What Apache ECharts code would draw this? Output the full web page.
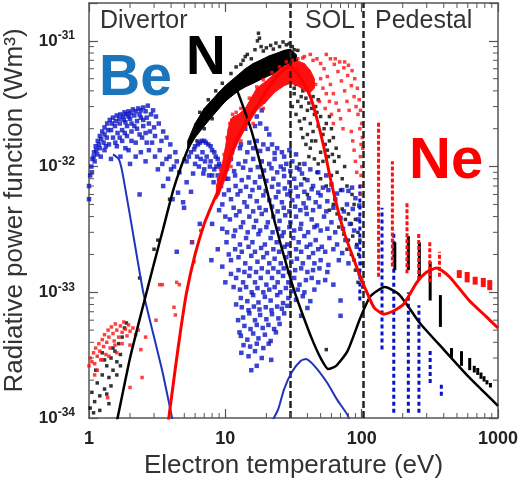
<!DOCTYPE html>
<html>
<head>
<meta charset="utf-8">
<script src="https://cdn.jsdelivr.net/npm/echarts@6/dist/echarts.min.js"></script>
<style>
html, body { margin: 0; padding: 0; background: #fff; }
#main { width: 529px; height: 484px; }
</style>
</head>
<body>
<div id="main"></div>
<script>
var FONT = '"Liberation Sans", Arial, sans-serif';

// axis ticks / regions
var tempTicks = [1, 10, 100, 1000];
var powerTicks = [1e-34, 1e-33, 1e-32, 1e-31];
var powerMax = 2e-31;
var regionBounds = [30, 103];
var regionNames = ['Divertor', 'SOL', 'Pedestal'];

// radiative power function curves [Te (eV), P (W m^3)]
var beCurve1 = [[1.5,1.25e-32],[1.65,1.15e-32],[1.75,9.2e-33],[2.02,3.8e-33],[2.5,1e-33],[3.0,4.4e-34],[3.5,2.2e-34],[4.15,9e-35]];
var beCurve2 = [[21.5,9e-35],[24.4,1.17e-34],[27,1.7e-34],[31,2.35e-34],[35.8,2.85e-34],[39,2.95e-34],[45,2.6e-34],[56,1.9e-34],[66,1.4e-34],[79,1.05e-34],[82,9e-35]];
var nCurve = [[1.58,9e-35],[1.62,1e-34],[2.0,3.0e-34],[2.47,7.5e-34],[3.0,1.7e-33],[3.5,3.2e-33],[4.2,6.8e-33],[5.2,1.3e-32],[6.8,2.5e-32],[9,3.8e-32],[11,4.5e-32],[12.1,4.1e-32],[13.5,3e-32],[15.5,1.95e-32],[17.5,1.2e-32],[20,6.8e-33],[22.5,4e-33],[25.5,2.4e-33],[28.8,1.5e-33],[32.5,9.8e-34],[37,6.6e-34],[43,4.3e-34],[50,3e-34],[57,2.45e-34],[65,2.6e-34],[78.7,3.4e-34],[98,6.3e-34],[116,9.3e-34],[148,1.1e-33],[190,9.5e-34],[267,5.7e-34],[400,3.5e-34],[615,2.1e-34],[1000,1.25e-34]];
var neCurve = [[3.8,9e-35],[4.3,2.5e-34],[4.7,5e-34],[5.2,1e-33],[6,2e-33],[7,3.5e-33],[8,5e-33],[8.9,6.5e-33],[10,9e-33],[11,1.25e-32],[12,1.6e-32],[14,2.2e-32],[17,3.0e-32],[20,4.0e-32],[24,5.2e-32],[27,5.9e-32],[29,6.2e-32],[31.3,6.0e-32],[36,5.0e-32],[42,3.6e-32],[47,2.4e-32],[53,1.4e-32],[59,8e-33],[66,4.8e-33],[75,2.9e-33],[88,1.8e-33],[100,1.25e-33],[107,1.05e-33],[123,7.6e-34],[145,6.7e-34],[175,7.2e-34],[204,8.1e-34],[254,1.2e-33],[300,1.45e-33],[355,1.56e-33],[440,1.33e-33],[615,8.6e-34],[820,6.4e-34],[1000,5.2e-34]];

// dense bands of points [Te, P low, P high]
var nBand = [[5.3,1.35e-32,1.6e-32],[6.0,1.7e-32,2.2e-32],[7.0,2.1e-32,2.9e-32],[8.0,2.5e-32,3.4e-32],[9.0,2.9e-32,3.9e-32],[10,3.3e-32,4.4e-32],[11,3.6e-32,4.8e-32],[12.5,4.0e-32,5.4e-32],[14,4.3e-32,6.0e-32],[16,4.6e-32,6.6e-32],[18,4.9e-32,7.0e-32],[21,5.3e-32,7.6e-32],[24,5.6e-32,8.0e-32],[27,5.8e-32,8.4e-32],[30,5.6e-32,8.6e-32],[33,5.0e-32,7.8e-32],[35,4.6e-32,6.0e-32]];
var neBand = [[8.6,5.5e-33,7.0e-33],[9.0,6.0e-33,8.5e-33],[9.5,7.0e-33,1.05e-32],[10,8.0e-33,1.4e-32],[10.5,9.5e-33,2.0e-32],[11,1.1e-32,2.4e-32],[11.5,1.3e-32,2.5e-32],[12.5,1.6e-32,2.6e-32],[14,2.0e-32,2.9e-32],[17,2.8e-32,4.2e-32],[20,3.3e-32,4.8e-32],[23,3.9e-32,5.5e-32],[27,4.4e-32,6.3e-32],[30,4.6e-32,6.6e-32],[34,4.4e-32,6.9e-32],[38,4.0e-32,6.6e-32],[42,3.9e-32,5.8e-32],[45,4.2e-32,5.0e-32]];

// scattered points [Te, P]
var beCloud = [
[1.0,5.5e-33],[1.0,7e-33],[1.02,8.5e-33],[1.04,1e-32],[1.06,1.15e-32],[1.09,1.3e-32],[1.12,1.45e-32],[1.16,1.6e-32],[1.2,1.75e-32],[1.25,1.9e-32],[1.3,2.05e-32],[1.36,2.2e-32],[1.42,2.35e-32],[1.5,2.45e-32],[1.6,2.55e-32],[1.7,2.6e-32],[1.82,2.7e-32],[1.95,2.75e-32],[2.1,2.85e-32],[2.3,2.9e-32],[2.5,2.95e-32],[2.7,3.05e-32],
[1.1,1.1e-32],[1.15,1.25e-32],[1.2,1.4e-32],[1.28,1.55e-32],[1.35,1.7e-32],[1.45,1.95e-32],[1.55,2.1e-32],[1.68,2.2e-32],[1.8,2.35e-32],[1.95,2.5e-32],[2.15,2.55e-32],[2.35,2.6e-32],
[1.3,1.35e-32],[1.4,1.5e-32],[1.5,1.7e-32],[1.62,1.85e-32],[1.75,1.95e-32],[1.9,2.1e-32],[2.05,2.2e-32],[2.25,2.3e-32],[2.5,2.35e-32],
[1.6,1.45e-32],[1.75,1.6e-32],[1.9,1.75e-32],[2.05,1.9e-32],[2.25,2.0e-32],[2.5,2.1e-32],[2.75,2.2e-32],
[1.45,1.15e-32],[1.7,1.2e-32],[1.95,1.35e-32],[2.2,1.55e-32],[2.45,1.7e-32],[2.8,1.9e-32],[3.0,2.05e-32],
[2.95,2.8e-32],[3.1,2.5e-32],[3.25,2.2e-32],[3.5,1.9e-32],[3.7,1.7e-32],[3.95,1.5e-32],[4.3,1.3e-32],[2.9,1.55e-32],[3.3,1.35e-32],[3.7,1.15e-32],[4.2,1.0e-32],[4.6,9e-33],[2.6,1.1e-32],[3.2,9.5e-33],[2.4,1.3e-32],[3.8,8e-33],[5.2,7.5e-33],[4.5,6.2e-33],[3.5,7e-33],[2.35,6e-33],[4.9,5.2e-33],[5.6,6.3e-33],[2.0,1.05e-32],[4.1,5.5e-33],
[1.05,9e-33],[1.08,1.2e-32],[1.13,1.35e-32],[1.18,1.5e-32],[1.23,1.65e-32],[1.3,1.8e-32],[1.38,1.95e-32],[1.47,2.2e-32],[1.57,2.3e-32],[1.67,2.4e-32],[1.78,2.5e-32],[1.88,2.6e-32],[2.02,2.65e-32],[2.2,2.75e-32],[2.4,2.8e-32],[2.6,2.75e-32],[2.85,2.6e-32],[1.85,2.25e-32],[2.0,2.4e-32],[2.4,2.45e-32],[2.65,2.45e-32],[1.22,1.2e-32],[1.33,1.45e-32],[1.56,1.55e-32],[1.68,1.7e-32],[1.83,1.85e-32],[2.15,2.1e-32],[2.35,1.8e-32],[2.6,1.85e-32],[2.65,1.55e-32],[3.05,1.75e-32],[3.4,1.6e-32],[3.9,1.2e-32],[3.05,1.2e-32],[2.75,1.35e-32],[3.45,1.05e-32],[4.0,9.5e-33],[4.4,1.1e-32],[2.2,1.2e-32],[1.85,1.4e-32],[2.05,1.6e-32],
[5.2,1.1e-32],[5.6,1.3e-32],[6.0,1.45e-32],[6.5,1.55e-32],[7.0,1.6e-32],[7.5,1.5e-32],[8.0,1.35e-32],[8.5,1.2e-32],[9.0,1.05e-32],[9.5,9e-33],[6.2,1.2e-32],[6.8,1.3e-32],[7.3,1.2e-32],[7.8,1.1e-32],[8.3,9.5e-33],[8.8,8.5e-33],[7.0,9.5e-33],[7.6,8.5e-33],[8.2,7.5e-33],[9.3,7e-33],[10,8e-33],[9.8,6e-33],[6.4,1e-32],[5.8,8.8e-33],
[5.4,1.2e-32],[5.9,1.37e-32],[6.3,1.5e-32],[6.7,1.6e-32],[7.2,1.55e-32],[7.8,1.45e-32],[8.3,1.3e-32],[8.8,1.15e-32],[9.2,1e-32],[6.6,1.15e-32],[7.1,1.1e-32],[7.7,1.0e-32],[8.6,1.0e-32],[9.6,8e-33],[6.0,1.05e-32],[6.9,8.8e-33],[8.0,8.5e-33],[9.0,7.8e-33],
[4.98,4.7e-33],[5.7,2.5e-33],[4.4,2.1e-33],[7.9,1.8e-33],[6.5,3.5e-33],[8.8,2.2e-33],[9.5,1.6e-33],[10,1.2e-33],[9,4.5e-33],[9.5,3.2e-33],[8,3.5e-33],
[9.5,5e-33],[10,4e-33],[10.3,3e-33],[10.6,2e-33],[11,1.4e-33],[11.5,1.1e-33],[12,8e-34],[12.4,6e-34],[12.7,4.8e-34],
[17,2.5e-32],[18.5,2.8e-32],[19,3.3e-32],
[12,1.9e-32],[14,2.0e-32],[16.5,2.1e-32],[18,2.2e-32],[20,2.0e-32],[21,1.8e-32],
[10.5,1.5e-32],[11.5,1.6e-32],[13,1.5e-32],[15,1.55e-32],[17,1.6e-32],[19,1.5e-32],[22,1.5e-32],[24,1.4e-32],[26,1.3e-32],[33,1.25e-32],
[11.2,1.3e-32],[12.8,1.4e-32],[14.5,1.3e-32],[16,1.4e-32],[18,1.33e-32],[20.5,1.38e-32],[23,1.28e-32],[27,1.2e-32],[29.5,1.35e-32],
[10,1.1e-32],[11,1.15e-32],[12.5,1.05e-32],[14,1.1e-32],[16,1.15e-32],[18.5,1.1e-32],[21,1.05e-32],[23,1.15e-32],[25.5,1.0e-32],[28,1.05e-32],[31,1.1e-32],[35,9.5e-33],[38,1.05e-32],[48,9e-33],[55,8.5e-33],
[10.3,9.6e-33],[11.6,9.2e-33],[13.5,9.8e-33],[15.3,9.4e-33],[17.3,9.9e-33],[19.2,9.3e-33],[21.8,9.7e-33],[24,9e-33],[26.8,9.5e-33],[30,9.2e-33],[33.5,9.8e-33],[42,9.5e-33],[36.5,8.8e-33],
[10.5,8e-33],[11.8,8.5e-33],[13.2,7.8e-33],[14.8,8.2e-33],[16.5,7.5e-33],[18,8.3e-33],[20,7.7e-33],[22.5,8e-33],[24.5,7.2e-33],[27,8.4e-33],[29.5,7.5e-33],[32,8e-33],[36,7.2e-33],[40,7.8e-33],[44,7e-33],[52,6.8e-33],[60,7.2e-33],[72,6.5e-33],[85,6.8e-33],
[10.6,6.5e-33],[11.9,7e-33],[12.9,6.4e-33],[14.2,6.9e-33],[15.8,6.5e-33],[17.7,6.8e-33],[19.8,6.4e-33],[22,6.9e-33],[24.5,6.3e-33],[27.3,6.7e-33],[30,6.4e-33],[33,6.8e-33],[38,6.3e-33],[43,6.6e-33],[48,6.2e-33],[57,6.5e-33],[66,6.1e-33],[80,6.4e-33],
[11,5.5e-33],[12.3,6e-33],[13.8,5.2e-33],[15.2,5.8e-33],[17,5.3e-33],[19,5.9e-33],[21,5.4e-33],[23.5,5.7e-33],[26,5.2e-33],[28.5,6e-33],[31,5.4e-33],[34,5.8e-33],[37.5,5.1e-33],[41,5.6e-33],[46,5.2e-33],[50,5.9e-33],[56,5.3e-33],[64,5.5e-33],[78,5e-33],[90,5.6e-33],
[11.5,4.7e-33],[12.7,4.4e-33],[14.4,4.8e-33],[16,4.4e-33],[17.8,4.7e-33],[19.8,4.5e-33],[22,4.8e-33],[24.2,4.4e-33],[26.8,4.7e-33],[29.5,4.4e-33],[32.5,4.8e-33],[35.5,4.5e-33],[39,4.7e-33],[44,4.5e-33],[49,4.8e-33],[55,4.4e-33],[62,4.7e-33],[74,4.4e-33],[86,4.6e-33],[96,4.9e-33],
[10.8,3.8e-33],[12,4.1e-33],[13.5,3.6e-33],[15,4e-33],[16.8,3.7e-33],[18.5,4.2e-33],[20.5,3.6e-33],[22.5,4e-33],[25,3.7e-33],[27.5,4.1e-33],[30,3.6e-33],[33,4e-33],[36,3.5e-33],[39.5,4.2e-33],[43,3.8e-33],[47,3.4e-33],[53,4e-33],[60,3.6e-33],[70,3.9e-33],[82,3.5e-33],[95,3.8e-33],
[11.8,3.1e-33],[13,3.3e-33],[14.6,3.0e-33],[16.2,3.3e-33],[18,3.1e-33],[20,3.3e-33],[22.2,3.0e-33],[24.4,3.2e-33],[26.8,3.0e-33],[29.5,3.3e-33],[32,3.1e-33],[35.5,3.2e-33],[40.5,3.0e-33],[45,3.3e-33],[50,3.1e-33],[56,3.2e-33],[64,3.0e-33],[73,3.2e-33],[88,3.1e-33],
[10.2,2.5e-33],[11.5,2.8e-33],[12.8,2.4e-33],[14.2,2.7e-33],[15.8,2.5e-33],[17.5,2.9e-33],[19.5,2.4e-33],[21.5,2.7e-33],[23.8,2.5e-33],[26,2.8e-33],[28.5,2.4e-33],[31.5,2.7e-33],[34.5,2.5e-33],[38,2.8e-33],[42,2.4e-33],[46,2.6e-33],[51,2.3e-33],[58,2.7e-33],[66,2.4e-33],[76,2.6e-33],[92,2.3e-33],
[11.8,2.2e-33],[13.2,2.1e-33],[14.8,2.3e-33],[16.5,2.1e-33],[18.3,2.25e-33],[20.2,2.05e-33],[22.5,2.2e-33],[24.8,2.1e-33],[27.2,2.3e-33],[29.6,2.05e-33],[33,2.2e-33],[36,2.1e-33],[39.5,2.3e-33],[44,2.05e-33],[48,2.2e-33],[54,2.1e-33],[62,2.2e-33],[72,2.05e-33],
[11,1.8e-33],[12.5,1.9e-33],[14,1.7e-33],[15.5,1.95e-33],[17.2,1.75e-33],[19,1.9e-33],[21,1.7e-33],[23,1.85e-33],[25.5,1.7e-33],[28,1.9e-33],[30.5,1.75e-33],[33.5,1.85e-33],[37,1.7e-33],[41,1.9e-33],[45,1.7e-33],[50,1.8e-33],[57,1.65e-33],[68,1.8e-33],[80,1.7e-33],
[12.5,1.5e-33],[13.8,1.45e-33],[15.2,1.55e-33],[16.8,1.45e-33],[18.5,1.55e-33],[20.5,1.45e-33],[22.5,1.55e-33],[24.5,1.45e-33],[26.8,1.55e-33],[29.3,1.45e-33],[32.5,1.5e-33],[36,1.55e-33],[40,1.45e-33],[44,1.5e-33],[49,1.55e-33],[56,1.45e-33],
[12,1.3e-33],[13.5,1.2e-33],[15,1.35e-33],[16.5,1.2e-33],[18.2,1.3e-33],[20,1.15e-33],[22,1.3e-33],[24.2,1.2e-33],[26.5,1.35e-33],[29,1.2e-33],[32,1.3e-33],[35,1.15e-33],[39,1.25e-33],[43,1.3e-33],[48,1.2e-33],[54,1.25e-33],[62,1.15e-33],
[12.8,1.05e-33],[14.2,1.1e-33],[15.6,1.0e-33],[17.2,1.08e-33],[19,1.0e-33],[21,1.05e-33],[23,1.1e-33],[25.3,1.0e-33],[27.8,1.08e-33],[30.5,1.02e-33],[34,1.05e-33],[38,1.0e-33],[45,1.05e-33],
[13,9e-34],[14.5,8.5e-34],[16,9.5e-34],[17.5,8.3e-34],[19.5,9.2e-34],[21.5,8.6e-34],[24,9.5e-34],[26.5,8.2e-34],[29,9e-34],[33,8.7e-34],[37,9.3e-34],[42,8.5e-34],[70,8.6e-34],
[13.2,7.6e-34],[14.8,7.2e-34],[16.2,7.7e-34],[17.8,7.3e-34],[19.8,7.6e-34],[21.8,7.2e-34],[24,7.7e-34],[26,7.4e-34],[28.5,7.8e-34],[40,7.5e-34],
[13.5,6.3e-34],[15,6.8e-34],[16.5,6e-34],[18,6.6e-34],[20,6.1e-34],[22,6.7e-34],[24.5,6.2e-34],[27,6.8e-34],[36,6.5e-34],[70,6.5e-34],
[13.8,5.4e-34],[15.3,5.1e-34],[17,5.5e-34],[18.8,5.2e-34],[20.7,5.5e-34],[22.8,5.1e-34],[25,5.6e-34],
[13,4.5e-34],[14.5,4.2e-34],[16,4.7e-34],[17.5,4.3e-34],[19.5,4.6e-34],[21.5,4.1e-34],[23.5,4.8e-34],
[13.6,3.8e-34],[15.2,3.7e-34],[17,3.9e-34],[19,3.6e-34],[20.8,3.9e-34],
[13.1,3.3e-34],[14.8,3.1e-34],[16.5,3.4e-34],[18.5,3e-34],[21.7,2.9e-34],[15.5,2.4e-34],[17,2.6e-34]
];

var nCloud = [
[1.02,1.2e-34],[1.05,1.6e-34],[1.1,1.35e-34],[1.15,1.9e-34],[1.2,1.5e-34],[1.25,2.2e-34],[1.3,1.7e-34],[1.35,2.6e-34],[1.4,2.1e-34],[1.45,3e-34],[1.5,2.4e-34],[1.55,3.4e-34],[1.6,2.8e-34],[1.65,3.9e-34],[1.7,3.2e-34],[1.75,4.4e-34],[1.82,5.2e-34],[1.88,5.7e-34],[1.3,2.9e-34],[1.45,1.8e-34],[1.2,1.15e-34],[1.4,1.3e-34],[1.12,2.4e-34],[1.6,2.2e-34],[1.5,3.6e-34],[1.7,2.6e-34],[1.25,3.3e-34],[1.08,1.1e-34],[1.35,1.55e-34],
[2.35,1.3e-33],[3.0,2.2e-33],[3.2,2.6e-33],[3.9,5.5e-33],[4.6,9e-33],[5.0,1.15e-32],
[6.2,1.6e-32],[7,2.0e-32],[8,2.4e-32],[6.5,2.7e-32],[7.5,3.4e-32],[8.5,4.0e-32],[9.5,4.6e-32],[11,5.5e-32],[12,6.2e-32],[13,6.5e-32],[13.5,7e-32],[14,7.5e-32],[14.5,7.8e-32],[15.5,7.2e-32],[16.5,8.5e-32],[17.2,1.0e-31],[17.5,1.15e-31],[17.8,1.05e-31],[18.3,9e-32],[19,8.3e-32],[20,8.8e-32],[21.5,9.2e-32],[22.5,8.6e-32],[23.5,9.6e-32],[25,9.0e-32],[26.5,9.8e-32],[28,9.3e-32],[29.5,9.5e-32],[31,9.0e-32],[32,8.5e-32],[34,8.4e-32],[34,6.5e-32],
[31,5e-32],[33,4.5e-32],[35,4.8e-32],[32,3.8e-32],[34,3.3e-32],[37,4e-32],[36,3e-32],[39,3.5e-32],[42,4.2e-32],[44,3.6e-32],[40,2.8e-32],[46,3.0e-32],[48,3.4e-32],[38,2.4e-32],[42,2.2e-32],[45,2.6e-32],[50,2.5e-32],[33,2.6e-32],[31,3e-32],[36,2e-32],[40,1.8e-32],[44,1.9e-32],[48,2.1e-32],[52,1.8e-32],[55,2.2e-32],[58,2.5e-32],[60,2.0e-32],[39,1.5e-32],[42,1.4e-32],[46,1.6e-32],[50,1.3e-32],[54,1.5e-32],[58,1.6e-32],[62,1.7e-32],[65,1.4e-32],[45,1.15e-32],[48,1.05e-32],[52,1.1e-32],[57,1.2e-32],[63,1.1e-32],[68,1.2e-32],[47,9e-33],[50,8e-33],[60,8.5e-33],[66,9e-33],[72,8e-33],[75,1e-32],[55,7e-33],[70,6.5e-33],[78,7e-33],[85,6e-33],[88,5e-33],[58,4.5e-33],[62,5e-33],[66,4.2e-33],[72,4.6e-33],[76,3.8e-33],[80,4.2e-33],[84,3.5e-33],[90,3.8e-33],[94,3e-33],[68,3.3e-33],[74,2.9e-33],[80,2.6e-33],[86,2.8e-33],[92,2.4e-33],[97,2.6e-33],[78,2.2e-33],[84,2e-33],[88,1.8e-33],[95,2e-33],[100,1.7e-33],[90,1.5e-33],[96,1.4e-33],[100,1.25e-33],[94,1.2e-33],[102,1.1e-33],[55,3.5e-34],[40,6e-33],[38,8e-33],[35,1.05e-32],
[32,4.2e-32],[34,5.5e-32],[36,3.6e-32],[38,4.6e-32],[41,3.2e-32],[43,2.9e-32],[47,2.7e-32],[35,2.3e-32],[37,1.7e-32],[41,1.2e-32],[43,1.6e-32],[53,2.0e-32],[56,1.35e-32],[61,1.25e-32]
];

var neCloud = [
[1.0,2.6e-34],[1.02,3e-34],[1.05,2.8e-34],[1.08,3.3e-34],[1.1,2.7e-34],[1.12,3.6e-34],[1.15,3.1e-34],[1.18,3.9e-34],[1.2,3.4e-34],[1.22,2.9e-34],[1.25,4.2e-34],[1.28,3.7e-34],[1.3,4.6e-34],[1.33,3.2e-34],[1.35,4.0e-34],[1.38,5.0e-34],[1.4,4.4e-34],[1.43,3.6e-34],[1.46,5.3e-34],[1.5,4.7e-34],[1.53,4.1e-34],[1.56,5.6e-34],[1.6,5.0e-34],[1.65,4.4e-34],[1.7,5.4e-34],[1.75,4.8e-34],[1.8,5.8e-34],[1.85,5.1e-34],[1.9,4.5e-34],[1.95,5.5e-34],[2.0,4.9e-34],[2.1,5.2e-34],[2.2,4.6e-34],[2.3,5.0e-34],[1.15,2.4e-34],[1.25,2.9e-34],[1.4,3.1e-34],[1.55,3.8e-34],[1.75,3.9e-34],[2.0,3.8e-34],[2.4,3.5e-34],[2.45,2.1e-34],[2.0,1.75e-34],[1.37,1.45e-34],[3.1,6e-34],[2.6,4.4e-34],[1.1,2.2e-34],[1.6,3.3e-34],
[3.45,1.15e-33],[4.4,1.2e-33],[4.2,7.6e-34],[4.3,6.6e-34],[5.7,2.5e-33],[5.9,1.75e-33],[6.6,3.1e-33],[3.3,1.15e-33],[4.6,1.15e-33],
[9.2,9.5e-33],[9.8,1.25e-32],[10.3,1.7e-32],[10.8,2.2e-32],[11.3,2.6e-32],[12,2.7e-32],[13,2.9e-32],[15,3.5e-32],[17,4.3e-32],[19,4.9e-32],[22,5.6e-32],[25,6.2e-32],[28,6.8e-32],[31,7e-32],[34,7.2e-32],[37,7.3e-32],[11,1e-32],[13,1.6e-32],[16,2.2e-32],[19,2.9e-32],
[47,7.2e-32],[50,6.6e-32],[53,6e-32],[56,5.2e-32],[59,4.5e-32],[62,3.8e-32],[65,3.2e-32],[68,2.8e-32],
[55,7.8e-32],[59,7.2e-32],[63,6.5e-32],[67,5.7e-32],[71,4.8e-32],[75,4.0e-32],[78,3.3e-32],[81,2.8e-32],
[64,7.2e-32],[69,6.8e-32],[74,6.1e-32],[79,5.3e-32],[84,4.4e-32],[88,3.6e-32],[91,3.0e-32],[94,2.6e-32],
[75,6.8e-32],[80,6.4e-32],[85,5.8e-32],[89,5.0e-32],[93,4.2e-32],[96,3.4e-32],[98,2.8e-32],[100,2.2e-32],[101,1.7e-32],[102,1.4e-32],
[97,2.0e-32],[99,1.5e-32],[98,1.2e-32],[100,1.0e-32],[99,8.5e-33],[101,7e-33],[98,6e-33],
[38,7.5e-32],[42,7.8e-32],[44,7.0e-32],[41,5.0e-32],[46,4.5e-32],[50,5e-32],[52,4.2e-32],[55,3.8e-32],[58,3.3e-32],[49,3.3e-32],[54,2.9e-32],[60,2.6e-32],[62,2.2e-32],[70,2.4e-32],[73,2.0e-32],[84,1.9e-32],[86,1.6e-32],[88,1.35e-32],[90,1.1e-32],[92,9e-33]
];

// pedestal columns of points [Te, P low, P high]
var beStripes = [[97,8.6e-34,7.5e-33],[141,3.5e-34,4.7e-33],[172,1.1e-34,3.1e-33],[220,1.1e-34,1.0e-33],[263,1.1e-34,7.9e-34],[318,1.9e-34,3.6e-34],[384,1.5e-34,1.9e-34]];
var nStripes = [[175,1.5e-33,2.5e-33],[220,1.5e-33,2.8e-33],[265,1.33e-33,2.5e-33],[318,8.6e-34,1.75e-33],[378,5.3e-34,9.5e-34],[456,3.0e-34,3.6e-34],[540,2.6e-34,3.4e-34],[620,2.4e-34,3.0e-34],[670,2.3e-34,2.6e-34],[710,2.2e-34,2.5e-34],[750,2.05e-34,2.3e-34],[790,1.95e-34,2.15e-34],[830,1.85e-34,2.0e-34],[880,1.75e-34,1.9e-34]];
var neStripes = [[133,1.33e-33,2.3e-32],[168,1.6e-33,1.1e-32],[215,1.42e-33,5.1e-33],[262,1.25e-33,3.0e-33],[316,1.2e-33,2.5e-33],[372,1.33e-33,2.1e-33]];
var neDashes = [[520,1.3e-33,1.5e-33],[594,1.2e-33,1.45e-33],[680,1.15e-33,1.33e-33],[780,1.1e-33,1.3e-33],[870,1.04e-33,1.25e-33]];

// power values are drawn in units of 1e-34 W m^3 (log axis precision)
var S = 1e34;
function sc(list) { return list.map(function (p) { return [p[0], p[1] * S]; }); }
function sc3(list) { return list.map(function (p) { return [p[0], p[1] * S, p[2] * S]; }); }

var minorT = [], minorP = [];
[1, 10, 100].forEach(function (d) { for (var k = 2; k < 10; k++) minorT.push([d * k, 1]); });
[1, 10, 100, 1000].forEach(function (d) { for (var k = 2; k < 10; k++) if (d * k < powerMax * S) minorP.push([1, d * k]); });

function tickStyle() { return { stroke: '#555', lineWidth: 1 }; }

function bandItem(band, color) {
    return function (params, api) {
        var i = params.dataIndex;
        if (i >= band.length - 1) return null;
        var a = band[i], b = band[i + 1];
        var pts = [api.coord([a[0], a[1]]), api.coord([b[0], b[1]]), api.coord([b[0], b[2]]), api.coord([a[0], a[2]])];
        return { type: 'polygon', shape: { points: pts }, style: { fill: color, stroke: color, lineWidth: 1 } };
    };
}

function stripeItem(color, width, dash) {
    return function (params, api) {
        var p1 = api.coord([api.value(0), api.value(1)]);
        var p2 = api.coord([api.value(0), api.value(2)]);
        return { type: 'line', shape: { x1: p1[0], y1: p1[1], x2: p2[0], y2: p2[1] },
            style: { stroke: color, lineWidth: width, lineDash: dash } };
    };
}

function scatter(name, data, color, size, z) {
    return { name: name, type: 'scatter', data: sc(data), symbol: 'rect', symbolSize: size,
        itemStyle: { color: color }, z: z, silent: true };
}
function curve(name, data, color, width) {
    return { name: name, type: 'line', data: sc(data), showSymbol: false, smooth: 0.2,
        lineStyle: { color: color, width: width }, z: 6, silent: true };
}
function custom(name, data, render, z) {
    return { name: name, type: 'custom', data: data, renderItem: render, encode: { x: 0, y: [1, 2] }, z: z, silent: true };
}

var myChart = echarts.init(document.getElementById('main'));
var axisLine = { show: true, lineStyle: { color: '#555', width: 1.5 } };
var majorTick = { show: true, inside: true, length: 9, lineStyle: { color: '#555', width: 1.2 } };

option = {
    animation: false,
    grid: { left: 89, right: 31, top: 3, bottom: 66, containLabel: false, outerBoundsMode: 'none' },
    xAxis: [{
        type: 'log', logBase: 10, min: tempTicks[0], max: tempTicks[3], position: 'bottom',
        axisLine: axisLine, axisTick: majorTick, splitLine: { show: false },
        axisLabel: { margin: 12, fontFamily: FONT, fontWeight: 'bold', fontSize: 18, color: '#222',
            formatter: function (v) { return tempTicks.indexOf(Math.round(v)) >= 0 ? String(Math.round(v)) : ''; } },
        name: 'Electron temperature (eV)', nameLocation: 'middle', nameGap: 34,
        nameTextStyle: { fontFamily: FONT, fontSize: 26, color: '#333' }
    }, {
        type: 'log', logBase: 10, min: tempTicks[0], max: tempTicks[3], position: 'top',
        axisLine: axisLine, axisTick: majorTick, axisLabel: { show: false }, splitLine: { show: false }
    }],
    yAxis: [{
        type: 'log', logBase: 10, min: powerTicks[0] * S, max: powerMax * S, position: 'left',
        axisLine: axisLine, axisTick: majorTick, splitLine: { show: false },
        axisLabel: { margin: 14,
            formatter: function (v) {
                var e = Math.round(Math.log10(v));
                if (Math.abs(v / Math.pow(10, e) - 1) > 1e-6) return '';
                return '{b|10}{s|' + (e - 34) + '}';
            },
            rich: {
                b: { fontFamily: FONT, fontWeight: 'bold', fontSize: 17, color: '#222' },
                s: { fontFamily: FONT, fontWeight: 'bold', fontSize: 12, color: '#222', padding: [0, 0, 10, 0] }
            } },
        name: 'Radiative power function (Wm³)', nameLocation: 'middle', nameGap: 60, nameRotate: 90,
        nameTextStyle: { fontFamily: FONT, fontSize: 26, color: '#333' }
    }, {
        type: 'log', logBase: 10, min: powerTicks[0] * S, max: powerMax * S, position: 'right',
        axisLine: axisLine, axisTick: majorTick, axisLabel: { show: false }, splitLine: { show: false }
    }],
    graphic: [
        { type: 'text', left: 100, top: 9, style: { text: regionNames[0], fontFamily: FONT, fontSize: 25, fill: '#333' } },
        { type: 'text', left: 305, top: 9, style: { text: regionNames[1], fontFamily: FONT, fontSize: 25, fill: '#333' } },
        { type: 'text', left: 375, top: 9, style: { text: regionNames[2], fontFamily: FONT, fontSize: 25, fill: '#333' } },
        { type: 'text', left: 99, top: 51, z: 20, style: { text: 'Be', fontFamily: FONT, fontWeight: 'bold', fontSize: 57, fill: '#1b75bc' } },
        { type: 'text', left: 186, top: 31, z: 20, style: { text: 'N', fontFamily: FONT, fontWeight: 'bold', fontSize: 55, fill: '#000' } },
        { type: 'text', left: 409, top: 133, z: 20, style: { text: 'Ne', fontFamily: FONT, fontWeight: 'bold', fontSize: 58, fill: '#ff0000' } }
    ],
    series: [
        custom('N band', sc3(nBand), bandItem(sc3(nBand), '#000'), 1),
        scatter('N', nCloud, '#000', 3.5, 1),
        scatter('Be', beCloud, '#0a14c4', 4.5, 2),
        custom('Ne band', sc3(neBand), bandItem(sc3(neBand), '#ff1010'), 3),
        scatter('Ne', neCloud, '#ff1010', 3.5, 3),
        custom('Be cols', sc3(beStripes), stripeItem('#0a14c4', 3, [4, 3]), 3),
        custom('N cols', sc3(nStripes), stripeItem('#000', 3, null), 3),
        custom('Ne cols', sc3(neStripes), stripeItem('#ff1010', 3, [4, 2]), 3),
        custom('Ne dashes', sc3(neDashes), stripeItem('#ff1010', 5, null), 3),
        curve('Be curve', beCurve1, '#2233bb', 2),
        curve('Be curve 2', beCurve2, '#2233bb', 2),
        curve('N curve', nCurve, '#000', 2.5),
        {
            name: 'Ne curve', type: 'line', data: sc(neCurve), showSymbol: false, smooth: 0.2,
            lineStyle: { color: '#ff0000', width: 3 }, z: 7, silent: true,
            markLine: {
                silent: true, symbol: ['none', 'none'], label: { show: false },
                lineStyle: { type: [7, 3], color: '#222', width: 2.5 },
                data: regionBounds.map(function (b) { return { xAxis: b }; })
            }
        },
        {
            name: 'minor x', type: 'custom', data: minorT, z: 10, silent: true, clip: false,
            renderItem: function (params, api) {
                var cs = params.coordSys;
                var x = api.coord([api.value(0), api.value(1)])[0];
                var yb = cs.y + cs.height;
                return { type: 'group', children: [
                    { type: 'line', shape: { x1: x, y1: yb, x2: x, y2: yb - 5 }, style: tickStyle() },
                    { type: 'line', shape: { x1: x, y1: cs.y, x2: x, y2: cs.y + 5 }, style: tickStyle() }] };
            }
        },
        {
            name: 'minor y', type: 'custom', data: minorP, z: 10, silent: true, clip: false,
            renderItem: function (params, api) {
                var cs = params.coordSys;
                var y = api.coord([api.value(0), api.value(1)])[1];
                var xr = cs.x + cs.width;
                return { type: 'group', children: [
                    { type: 'line', shape: { x1: cs.x, y1: y, x2: cs.x + 5, y2: y }, style: tickStyle() },
                    { type: 'line', shape: { x1: xr, y1: y, x2: xr - 5, y2: y }, style: tickStyle() }] };
            }
        }
    ]
};
myChart.setOption(option);
</script>
</body>
</html>
